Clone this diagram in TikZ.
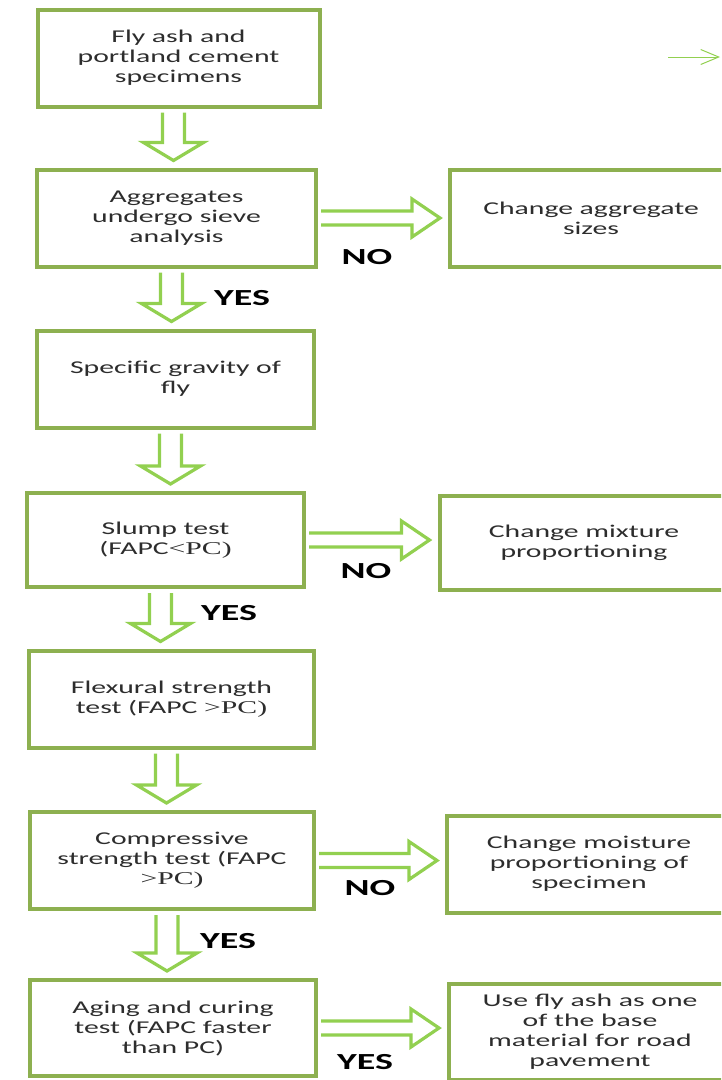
\documentclass[tikz,border=0pt]{standalone}
\usepackage{fontspec}
\setmainfont{Carlito}[FakeStretch=1.65]
\newfontfamily\serifpart{Liberation Serif}[FakeStretch=1.65]
\usetikzlibrary{calc, arrows.meta}

\definecolor{boxgreen}{RGB}{141,176,80}
\definecolor{arrowgreen}{RGB}{146,208,80}
\definecolor{textgrey}{RGB}{45,45,45}

%% hollow block arrows between two boxes
\newcommand{\downblock}[2]{%
  \draw[blockarrow] let \p1 = (#1.south), \p2 = (#2.north) in
    (\x1-16pt,\y1-4pt) -- (\x1-16pt,\y2+25pt) -- (\x1-35pt,\y2+25pt) -- (\x1-5pt,\y2+7pt)
    -- (\x1+25pt,\y2+25pt) -- (\x1+6pt,\y2+25pt) -- (\x1+6pt,\y1-4pt);}
\newcommand{\rightblock}[2]{%
  \draw[blockarrow] let \p1 = (#1.east), \p2 = (#2.west) in
    (\x1+3pt,\y1+7pt) -- (\x2-36pt,\y1+7pt) -- (\x2-36pt,\y1+19pt) -- (\x2-8pt,\y1)
    -- (\x2-36pt,\y1-19pt) -- (\x2-36pt,\y1-7pt) -- (\x1+3pt,\y1-7pt);}

\begin{document}
\begin{tikzpicture}[x=1pt, y=-1pt,
  stepbox/.style={draw=boxgreen, line width=4pt, fill=white, align=center,
    text=textgrey, font=\fontsize{18}{20}\selectfont,
    minimum width=282pt, minimum height=97pt},
  blockarrow/.style={draw=arrowgreen, line width=3.2pt},
  answer/.style={font=\fontsize{23}{26}\selectfont\bfseries, text=black},
  thinarrow/.style={draw=arrowgreen, line width=1pt, -{Straight Barb[length=18pt,width=15pt]}}]

\path[use as bounding box, clip] (0,0) rectangle (721,1080);

%% main column
\node[stepbox] (specimens) at (178.5,58) {Fly ash and\\portland cement\\specimens};
\node[stepbox, minimum width=279pt] (sieve) at (176.5,218) {Aggregates\\undergo sieve\\analysis};
\node[stepbox, minimum width=277pt] (gravity) at (175.5,379) {Specific gravity of\\fly};
\node[stepbox, minimum width=277pt, minimum height=94pt] (slump) at (165.5,540) {Slump test\\(FAPC{\serifpart<PC)}};
\node[stepbox, minimum width=285pt] (flexural) at (171.5,699) {Flexural strength\\test (FAPC {\serifpart>PC)}};
\node[stepbox, minimum width=284pt] (compressive) at (172,860.5) {Compressive\\strength test (FAPC\\{\serifpart>PC)}};
\node[stepbox, minimum width=286pt, minimum height=96pt] (aging) at (173,1028) {Aging and curing\\test (FAPC faster\\than PC)};

%% side column
\node[stepbox] (aggsize) at (591,218) {Change aggregate\\sizes};
\node[stepbox, minimum width=289pt, minimum height=94pt] (mixture) at (584,543) {Change mixture\\proportioning};
\node[stepbox, minimum width=284pt] (moisture) at (589,864) {Change moisture\\proportioning of\\specimen};
\node[stepbox, minimum height=96pt] (usefly) at (590,1032) {Use fly ash as one\\of the base\\material for road\\pavement};

%% arrows
\downblock{specimens}{sieve}
\downblock{sieve}{gravity}
\downblock{gravity}{slump}
\downblock{slump}{flexural}
\downblock{flexural}{compressive}
\downblock{compressive}{aging}

\rightblock{sieve}{aggsize}
\rightblock{slump}{mixture}
\rightblock{compressive}{moisture}
\rightblock{aging}{usefly}

%% answers
\node[answer] (no1) at (367,257) {NO};
\node[answer] (yes1) at (242,298) {YES};
\node[answer] (no2) at (366,571) {NO};
\node[answer] (yes2) at (229,613) {YES};
\node[answer] (no3) at (370,888) {NO};
\node[answer] (yes3) at (228,941) {YES};
\node[answer] (yes4) at (365,1062) {YES};

%% stray arrow top right
\coordinate (tail) at (668,57);
\coordinate (tip) at (720,57);
\draw[thinarrow] (tail) -- (tip);

\end{tikzpicture}
\end{document}
